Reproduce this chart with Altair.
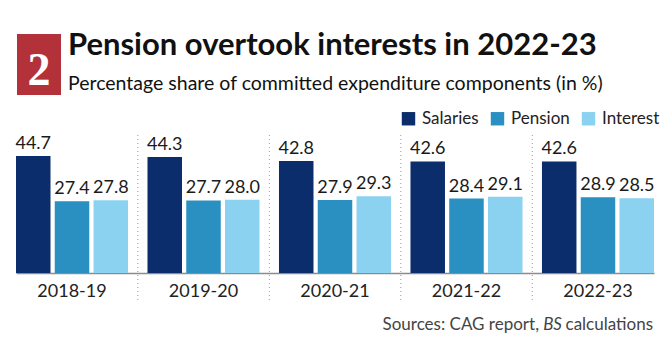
import altair as alt
import pandas as pd

years = ["2018-19", "2019-20", "2020-21", "2021-22", "2022-23"]
series = ["Salaries", "Pension", "Interest"]
salaries = [44.7, 44.3, 42.8, 42.6, 42.6]
pension = [27.4, 27.7, 27.9, 28.4, 28.9]
interest = [27.8, 28.0, 29.3, 29.1, 28.5]
colors = ["#0c2d6b", "#2a8fc1", "#8bd2f1"]

rows = []
for i, y in enumerate(years):
    for s, vals in zip(series, [salaries, pension, interest]):
        rows.append({"year": y, "series": s, "value": vals[i], "label": f"{vals[i]:.1f}"})
df = pd.DataFrame(rows)

FONT = "Lato"

xenc = alt.X("year:N", sort=years, scale=alt.Scale(domain=years, paddingInner=0.148, paddingOuter=0),
             axis=alt.Axis(title=None, ticks=False, domainColor="#8c8c8c", domainWidth=1.5,
                           labelFontSize=18, labelFont=FONT, labelColor="#222222",
                           labelPadding=18, labelAngle=0, bandPosition=0.5, labelAlign="center"))
xoff = alt.XOffset("series:N", sort=series, scale=alt.Scale(domain=series, paddingInner=0.11, paddingOuter=0))
yenc = alt.Y("value:Q", scale=alt.Scale(domain=[0, 56.5]), axis=None)

bars = alt.Chart(df).mark_bar().encode(
    x=xenc, xOffset=xoff, y=yenc,
    color=alt.Color("series:N", sort=series,
                    scale=alt.Scale(domain=series, range=colors),
                    legend=alt.Legend(title=None, orient="none", legendX=384, legendY=-15,
                                      direction="horizontal", symbolType="square", symbolSize=180,
                                      symbolStrokeWidth=0, labelFontSize=17, labelFont=FONT,
                                      labelColor="#222222", labelOffset=5, columnPadding=10)),
)

labels = alt.Chart(df).mark_text(baseline="bottom", dy=-3, fontSize=18, font=FONT, color="#1a1a1a").encode(
    x=xenc, xOffset=xoff, y=yenc, text="label:N"
)

sep_df = pd.DataFrame({"year": years[1:]})
seps = alt.Chart(sep_df).mark_rule(color="#9a9a9a", strokeDash=[1, 3], strokeWidth=1, xOffset=-65.7).encode(
    x=alt.X("year:N", sort=years),
    y=alt.value(10), y2=alt.value(177),
)

one = pd.DataFrame({"a": [0]})
redbox = alt.Chart(one).mark_rect(color="#b3323a").encode(
    x=alt.value(1), x2=alt.value(45), y=alt.value(-91), y2=alt.value(-30)
)
two = alt.Chart(one).mark_text(text="2", font="Liberation Serif", fontSize=46, fontWeight="bold",
                               color="white", align="center", baseline="alphabetic").encode(
    x=alt.value(23), y=alt.value(-40)
)
title = alt.Chart(one).mark_text(text="Pension overtook interests in 2022-23", font=FONT, fontSize=31,
                                 fontWeight="bold", color="#111111", align="left", baseline="alphabetic").encode(
    x=alt.value(52), y=alt.value(-70)
)
subtitle = alt.Chart(one).mark_text(text="Percentage share of committed expenditure components (in %)",
                                    font=FONT, fontSize=19.5, color="#111111", align="left",
                                    baseline="alphabetic").encode(
    x=alt.value(52), y=alt.value(-35)
)
src1 = alt.Chart(one).mark_text(text="Sources: CAG report,", font=FONT, fontSize=17, color="#444444",
                                align="right", baseline="alphabetic").encode(x=alt.value(523), y=alt.value(205))
src2 = alt.Chart(one).mark_text(text="BS", font=FONT, fontSize=17, fontStyle="italic", color="#444444",
                                align="right", baseline="alphabetic").encode(x=alt.value(546), y=alt.value(205))
src3 = alt.Chart(one).mark_text(text="calculations", font=FONT, fontSize=17, color="#444444",
                                align="right", baseline="alphabetic").encode(x=alt.value(637), y=alt.value(205))

chart = alt.layer(seps, bars, labels, redbox, two, title, subtitle, src1, src2, src3).properties(
    width=638, height=148,
    padding={"left": 16, "top": 125, "right": 16, "bottom": 82},
    autosize=alt.AutoSizeParams(type="none"),
    background="white",
).configure_view(stroke=None)

chart.save("out.html", embed_options={"renderer": "svg", "actions": False})
